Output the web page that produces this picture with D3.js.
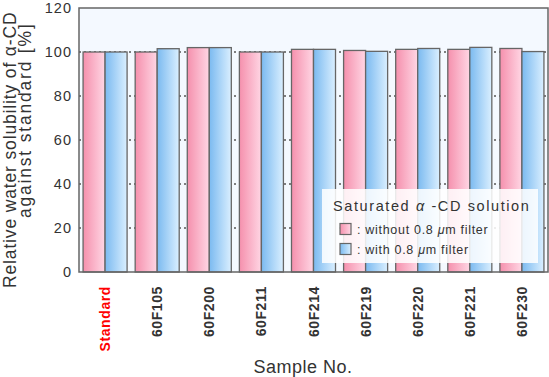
<!DOCTYPE html>
<html>
<head>
<meta charset="utf-8">
<script src="https://cdn.jsdelivr.net/npm/d3@7"></script>
<style>
  body { margin: 0; background: #fff; }
  text { font-family: "Liberation Sans", Arial, sans-serif; fill: #333; }
</style>
</head>
<body>
<div id="chart"></div>
<script>
const samples = ['Standard', '60F105', '60F200', '60F211', '60F214', '60F219', '60F220', '60F221', '60F230'];
const withoutFilter = [100, 100, 102, 100, 101.2, 100.7, 101.2, 101.2, 101.6];
const withFilter = [100, 101.5, 102, 100, 101.2, 100.3, 101.6, 102.1, 100.2];
const yTicks = [0, 20, 40, 60, 80, 100, 120];

const W = 549, H = 377;
const plotL = 79, plotR = 548, plotT = 8, plotB = 272;

const svg = d3.select('#chart').append('svg')
    .attr('width', W)
    .attr('height', H);

const defs = svg.append('defs');
function grad(id, c0, c1) {
  const g = defs.append('linearGradient').attr('id', id)
      .attr('x1', 0).attr('x2', 1).attr('y1', 0).attr('y2', 0);
  g.append('stop').attr('offset', 0).attr('stop-color', c0);
  g.append('stop').attr('offset', 1).attr('stop-color', c1);
}
grad('pink', '#f590ad', '#ffd6e4');
grad('blue', '#7bbaf0', '#daefff');

const x = d3.scaleBand()
    .domain(samples)
    .range([plotL, plotR])
    .paddingInner(0.155)
    .paddingOuter(0.078);
const sub = d3.scaleBand()
    .domain(['without', 'with'])
    .range([0, x.bandwidth()]);
const y = d3.scaleLinear()
    .domain([0, 120])
    .range([plotB, plotT]);

// plot background
svg.append('rect')
    .attr('x', plotL).attr('y', plotT)
    .attr('width', plotR - plotL).attr('height', plotB - plotT)
    .attr('fill', '#f4f9ff');

// dotted grid
svg.append('g')
  .selectAll('line')
  .data(yTicks.filter(d => d > 0 && d < 120))
  .join('line')
    .attr('x1', plotL).attr('x2', plotR)
    .attr('y1', d => y(d)).attr('y2', d => y(d))
    .attr('stroke', '#555')
    .attr('stroke-width', 1.5)
    .attr('stroke-dasharray', '2,3');

// bars
const groups = svg.append('g')
  .selectAll('g')
  .data(samples.map((s, i) => ({ s, a: withoutFilter[i], b: withFilter[i] })))
  .join('g')
    .attr('transform', d => `translate(${x(d.s)},0)`);

groups.append('rect')
    .attr('x', sub('without'))
    .attr('y', d => y(d.a))
    .attr('width', sub.bandwidth())
    .attr('height', d => y(0) - y(d.a))
    .attr('fill', 'url(#pink)')
    .attr('stroke', '#666')
    .attr('stroke-width', 1.3);

groups.append('rect')
    .attr('x', sub('with'))
    .attr('y', d => y(d.b))
    .attr('width', sub.bandwidth())
    .attr('height', d => y(0) - y(d.b))
    .attr('fill', 'url(#blue)')
    .attr('stroke', '#666')
    .attr('stroke-width', 1.3);

// frame
svg.append('rect')
    .attr('x', plotL).attr('y', plotT)
    .attr('width', plotR - plotL).attr('height', plotB - plotT)
    .attr('fill', 'none')
    .attr('stroke', '#666')
    .attr('stroke-width', 1.5);

// y tick labels
svg.append('g')
  .selectAll('text')
  .data(yTicks)
  .join('text')
    .attr('x', 72)
    .attr('y', d => y(d))
    .attr('dy', '0.36em')
    .attr('text-anchor', 'end')
    .style('font-size', '14.5px')
    .style('letter-spacing', '1px')
    .text(d => d);

// x labels
svg.append('g')
  .selectAll('text')
  .data(samples)
  .join('text')
    .attr('transform', d => `translate(${x(d) + x.bandwidth() / 2 + 5},286) rotate(-90)`)
    .attr('text-anchor', 'end')
    .style('font-size', '14px')
    .style('font-weight', 'bold')
    .style('letter-spacing', '0.6px')
    .style('fill', d => d === 'Standard' ? '#ff0000' : '#333')
    .text(d => d);

// axis titles
svg.append('text')
    .attr('transform', 'translate(15.5,288) rotate(-90)')
    .style('font-size', '17.5px')
    .style('letter-spacing', '0.85px')
    .text('Relative water solubility of α-CD');
svg.append('text')
    .attr('transform', 'translate(31,218) rotate(-90)')
    .style('font-size', '17.5px')
    .style('letter-spacing', '1.8px')
    .text('against standard [%]');

svg.append('text')
    .attr('x', 303).attr('y', 373)
    .attr('text-anchor', 'middle')
    .style('font-size', '18px')
    .style('letter-spacing', '0.5px')
    .text('Sample No.');

// legend
const lg = svg.append('g');
lg.append('rect')
    .attr('x', 322).attr('y', 189)
    .attr('width', 216).attr('height', 74)
    .attr('fill', '#fff')
    .attr('fill-opacity', 0.86);

const lt = lg.append('text')
    .attr('x', 333).attr('y', 211)
    .style('font-size', '14.5px')
    .style('letter-spacing', '1.6px');
lt.append('tspan').text('Saturated ');
lt.append('tspan').style('font-style', 'italic').text('α');
lt.append('tspan').text(' -CD solution');

const items = [
  { fill: 'url(#pink)', label: 'without' },
  { fill: 'url(#blue)', label: 'with' }
];
items.forEach((it, i) => {
  const yy = 223.5 + i * 20;
  lg.append('rect')
      .attr('x', 340).attr('y', yy)
      .attr('width', 11).attr('height', 11)
      .attr('fill', it.fill)
      .attr('stroke', '#666')
      .attr('stroke-width', 1.2);
  const t = lg.append('text')
      .attr('x', 357).attr('y', yy + 10)
      .style('font-size', '12.5px')
      .style('letter-spacing', '0.7px');
  t.append('tspan').text(`: ${it.label} 0.8 `);
  t.append('tspan').style('font-style', 'italic').text('μ');
  t.append('tspan').text('m filter');
});
</script>
</body>
</html>
